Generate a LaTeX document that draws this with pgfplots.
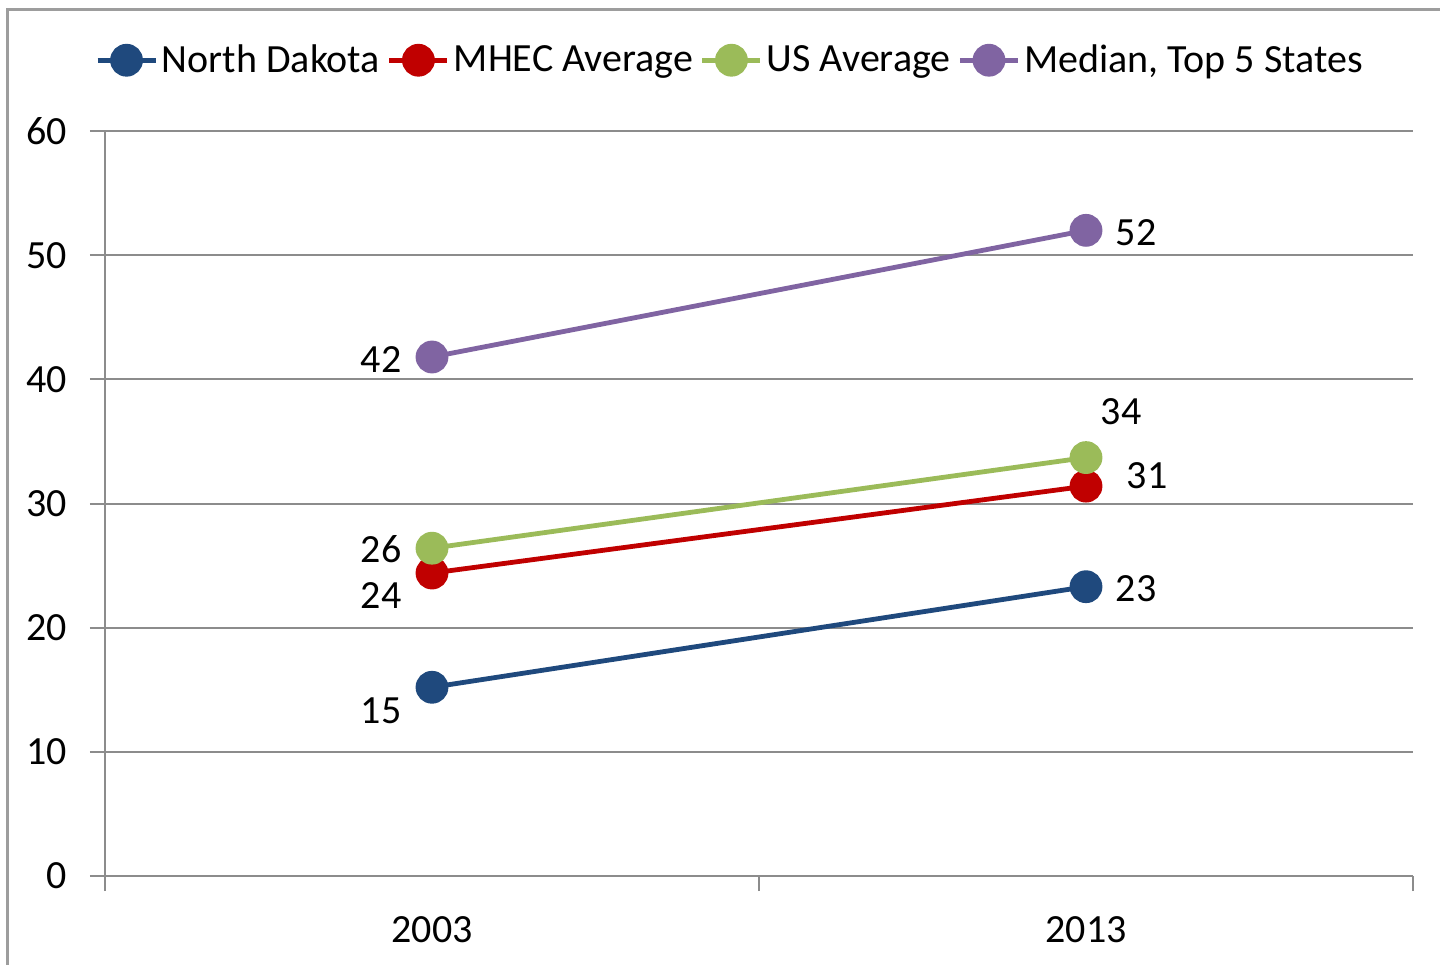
\documentclass[border=0pt]{standalone}
\usepackage{pgfplots}
\usepackage{pgfplotstable}
\pgfplotsset{compat=1.18}
\usepackage{fontspec}
\setmainfont{Carlito}

\definecolor{ndblue}{HTML}{1F497D}
\definecolor{mhecred}{HTML}{C00000}
\definecolor{usgreen}{HTML}{9BBB59}
\definecolor{medpurple}{HTML}{8064A2}
\definecolor{axgray}{HTML}{8C8C8C}

% x y label-dx label-dy (pt)
\pgfplotstableread{
x y dx dy
0 15.2 -25.5 -11.5
1 23.3 25 -1
}\nd
\pgfplotstableread{
x y dx dy
0 24.4 -25.5 -11
1 31.4 30.5 5
}\mhec
\pgfplotstableread{
x y dx dy
0 26.4 -25.5 -0.5
1 33.7 17.5 23
}\us
\pgfplotstableread{
x y dx dy
0 41.8 -25.5 -1.5
1 52.0 25 -1
}\med

\begin{document}
\begin{tikzpicture}
\useasboundingbox (-52.5pt,-44pt) rectangle (667.5pt,438pt);
\draw[color=axgray!85, line width=1.5pt] (-48.5pt,-60pt) -- (-48.5pt,433pt) -- (700pt,433pt);
\begin{axis}[
    at={(0,0)}, anchor=south west,
    scale only axis, width=654pt, height=372.5pt,
    xmin=-0.5, xmax=1.5, ymin=0, ymax=60,
    ytick={0,10,...,60},
    xtick={0,1}, xticklabels={2003,2013},
    xtick style={draw=none},
    extra x ticks={-0.5,0.5,1.5}, extra x tick labels={},
    extra x tick style={grid=none, xtick style={draw=axgray, line width=1pt}},
    axis x line*=bottom, axis y line*=left,
    axis line style={draw=axgray, line width=1pt},
    tick align=outside, major tick length=7.5pt,
    ytick style={draw=axgray, line width=1pt},
    ymajorgrids, grid style={draw=axgray, line width=1pt},
    ticklabel style={font=\fontsize{20}{23}\selectfont},
    /pgf/number format/assume math mode=true,
    yticklabel style={xshift=-8pt},
    xticklabel style={yshift=-9pt},
    legend columns=4,
    legend style={at={(0.4786,1.095)}, anchor=center, draw=none, fill=none,
        font=\fontsize{20}{23}\selectfont,
        /tikz/every even column/.append style={column sep=1.5pt}},
    legend image code/.code={
        \draw[#1, mark=none] (0pt,0pt) -- (29pt,0pt);
        \fill[#1] (14.5pt,0pt) circle (7pt);
    },
    every axis plot/.append style={line width=2.4pt, mark=*, mark size=7pt,
        mark options={solid}},
    nodes near coords={\pgfmathprintnumber[fixed,precision=0]{\pgfplotspointmeta}},
    point meta=y,
    visualization depends on={\thisrow{dx} \as \dx},
    visualization depends on={\thisrow{dy} \as \dy},
    nodes near coords style={anchor=center, xshift=\dx pt, yshift=\dy pt,
        text=black, font=\fontsize{20}{23}\selectfont},
    clip=false,
]
\addplot[color=ndblue] table[x=x,y=y] {\nd};
\addlegendentry{North Dakota}
\addplot[color=mhecred] table[x=x,y=y] {\mhec};
\addlegendentry{MHEC Average}
\addplot[color=usgreen] table[x=x,y=y] {\us};
\addlegendentry{US Average}
\addplot[color=medpurple] table[x=x,y=y] {\med};
\addlegendentry{Median, Top 5 States}
\end{axis}
\end{tikzpicture}
\end{document}
